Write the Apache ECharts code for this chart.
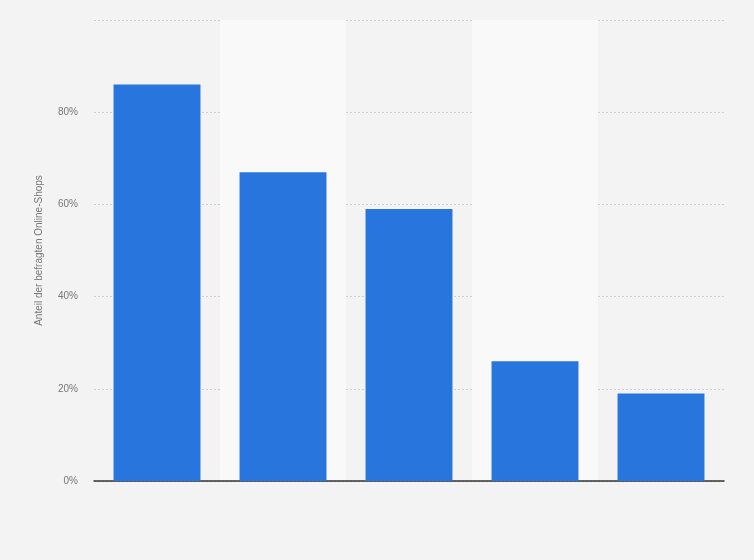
<!DOCTYPE html>
<html><head><meta charset="utf-8">
<script src="https://cdn.jsdelivr.net/npm/echarts@6/dist/echarts.min.js"></script>
<style>html,body{margin:0;padding:0;background:#f3f3f3;}#c{width:754px;height:560px;}</style>
</head><body><div id="c"></div>
<script>
const categories = ['Kategorie 1','Kategorie 2','Kategorie 3','Kategorie 4','Kategorie 5'];
const values = [86, 67, 59, 26, 19];
const yTicks = [0, 20, 40, 60, 80, 100];
const yTitle = 'Anteil der befragten Online-Shops';

const chart = echarts.init(document.getElementById('c'));
chart.setOption({
  backgroundColor: '#f3f3f3',
  animation: false,
  grid: {left: 94, right: 30, top: 20, bottom: 79, containLabel: false},
  xAxis: {
    type: 'category', data: categories,
    axisLine: {lineStyle: {color: '#333', width: 1.5}},
    axisTick: {show: false}, axisLabel: {show: false},
    splitArea: {show: true, areaStyle: {color: ['rgba(0,0,0,0)', '#f9f9f9']}}
  },
  yAxis: {
    type: 'value', min: yTicks[0], max: yTicks[yTicks.length-1], interval: 20,
    name: yTitle, nameLocation: 'middle', nameGap: 50,
    nameTextStyle: {color: '#777', fontSize: 10, fontFamily: '"Liberation Sans", Arial, sans-serif'},
    axisLine: {show: false}, axisTick: {show: false},
    axisLabel: {color: '#777', fontSize: 10, fontFamily: '"Liberation Sans", Arial, sans-serif', margin: 16,
      formatter: v => v === 100 ? '' : v + '%'},
    splitLine: {lineStyle: {color: '#cfcfcf', type: [2, 2], width: 1}}
  },
  series: [{
    type: 'bar', data: values, barCategoryGap: '31%',
    itemStyle: {color: '#2876dd'}
  }]
});
</script></body></html>
